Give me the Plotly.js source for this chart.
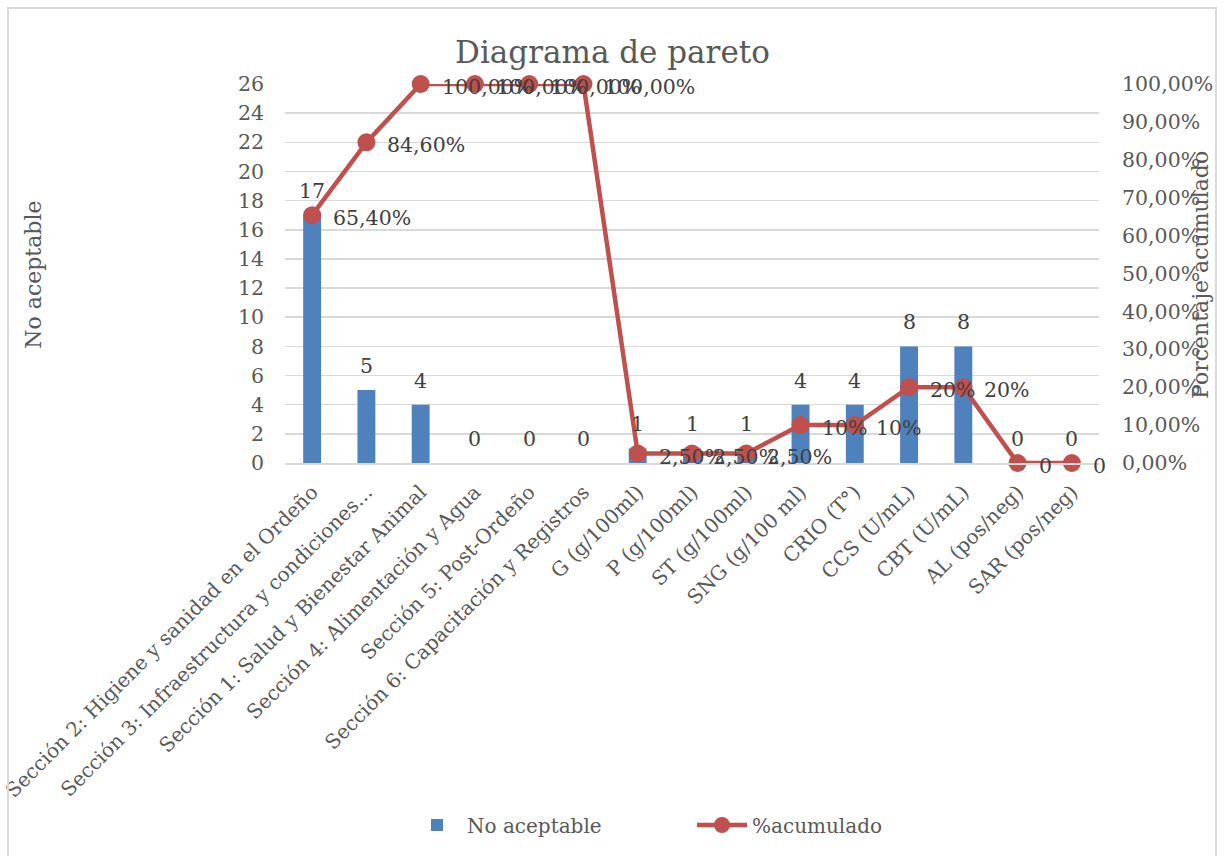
<!DOCTYPE html>
<html>
<head>
<meta charset="utf-8">
<script src="https://cdn.plot.ly/plotly-3.0.1.min.js"></script>
<style>
  html, body { margin: 0; padding: 0; background: #fff; }
  #wrap { position: relative; width: 1225px; height: 856px; overflow: hidden; }
  #chart { position: absolute; left: 0; top: 0; width: 1225px; height: 856px; }
  #frame { position: absolute; left: 7px; top: 7px; width: 1210px; height: 870px;
           border: 2px solid #d9d9d9; pointer-events: none; box-sizing: border-box; }
</style>
</head>
<body>
<div id="wrap">
  <div id="chart"></div>
  <div id="frame"></div>
</div>
<script>
const categories = [
  "Sección 2: Higiene y sanidad en el Ordeño",
  "Sección 3: Infraestructura y condiciones...",
  "Sección 1: Salud y Bienestar Animal",
  "Sección 4: Alimentación y Agua",
  "Sección 5: Post-Ordeño",
  "Sección 6: Capacitación y Registros",
  "G (g/100ml)",
  "P (g/100ml)",
  "ST (g/100ml)",
  "SNG (g/100 ml)",
  "CRIO (T°)",
  "CCS (U/mL)",
  "CBT (U/mL)",
  "AL (pos/neg)",
  "SAR (pos/neg)"
];
const noAceptable = [17, 5, 4, 0, 0, 0, 1, 1, 1, 4, 4, 8, 8, 0, 0];
const acumulado = [65.4, 84.6, 100, 100, 100, 100, 2.5, 2.5, 2.5, 10, 10, 20, 20, 0, 0];
const acumuladoLabels = ["65,40%", "84,60%", "100,00%", "100,00%", "100,00%", "100,00%",
  "2,50%", "2,50%", "2,50%", "10%", "10%", "20%", "20%", "0", "0"];

const FONT = "DejaVu Serif";
const GRAY = "#595959";
const DARK = "#404040";
const BLUE = "#4F81BD";
const RED = "#C0504D";

const barTrace = {
  type: "bar", name: "No aceptable",
  x: categories, y: noAceptable,
  marker: { color: BLUE }, width: 0.33,
  hoverinfo: "x+y"
};
const lineTrace = {
  type: "scatter", mode: "lines+markers", name: "%acumulado",
  x: categories, y: acumulado, yaxis: "y2",
  line: { color: RED, width: 4.5 },
  marker: { color: RED, size: 18 },
  cliponaxis: false
};

const annotations = [];
categories.forEach((c, i) => {
  annotations.push({
    x: c, y: noAceptable[i], xref: "x", yref: "y",
    text: String(noAceptable[i]), showarrow: false,
    xanchor: "center", yanchor: "bottom", yshift: 10,
    font: { family: FONT, size: 20.5, color: DARK }
  });
  annotations.push({
    x: c, y: acumulado[i], xref: "x", yref: "y2",
    text: acumuladoLabels[i], showarrow: false,
    xanchor: "left", yanchor: "middle", xshift: 19, yshift: -3,
    font: { family: FONT, size: 20.5, color: DARK }
  });
});
annotations.push({
  xref: "paper", yref: "paper", x: -0.31, y: 0.496,
  text: "No aceptable", textangle: -90, showarrow: false,
  xanchor: "center", yanchor: "middle",
  font: { family: FONT, size: 22, color: GRAY }
});
annotations.push({
  xref: "paper", yref: "paper", x: 1.124, y: 0.496,
  text: "Porcentaje acumulado", textangle: -90, showarrow: false,
  xanchor: "center", yanchor: "middle",
  font: { family: FONT, size: 22, color: GRAY }
});

const layout = {
  width: 1225, height: 856,
  paper_bgcolor: "#ffffff", plot_bgcolor: "#ffffff",
  separators: ",.",
  margin: { l: 285, r: 126, t: 84, b: 393 },
  font: { family: FONT, size: 20, color: GRAY },
  title: {
    text: "Diagrama de pareto",
    font: { family: FONT, size: 31, color: GRAY },
    x: 0.5, xref: "container", xanchor: "center",
    y: 1 - 52 / 856, yref: "container", yanchor: "middle"
  },
  showlegend: true,
  legend: {
    orientation: "h", xref: "container", yref: "container",
    x: 407 / 1225, xanchor: "left", y: 1 - 825 / 856, yanchor: "middle",
    font: { family: FONT, size: 20, color: GRAY },
    itemwidth: 50, entrywidth: 220
  },
  xaxis: {
    type: "category", tickangle: -45, range: [-0.5, 14.5],
    showgrid: false, zeroline: false,
    showline: true, linecolor: "#d9d9d9", linewidth: 1.5,
    ticks: "", ticklabelstandoff: 8,
    tickfont: { family: FONT, size: 20, color: GRAY }
  },
  yaxis: {
    range: [0, 26], dtick: 2, tick0: 0,
    showgrid: true, gridcolor: "#d9d9d9", gridwidth: 1.5,
    zeroline: false, showline: false,
    ticks: "", ticklabelstandoff: 20,
    tickfont: { family: FONT, size: 20.5, color: GRAY }
  },
  yaxis2: {
    overlaying: "y", side: "right",
    range: [0, 100], dtick: 10, tick0: 0,
    tickformat: ",.2f", ticksuffix: "%",
    showgrid: false, zeroline: false, showline: false,
    ticks: "", ticklabelstandoff: 22,
    tickfont: { family: FONT, size: 20.5, color: GRAY }
  },
  bargap: 0.67,
  annotations: annotations
};

Plotly.newPlot("chart", [barTrace, lineTrace], layout, { displayModeBar: false, staticPlot: true });
</script>
</body>
</html>
